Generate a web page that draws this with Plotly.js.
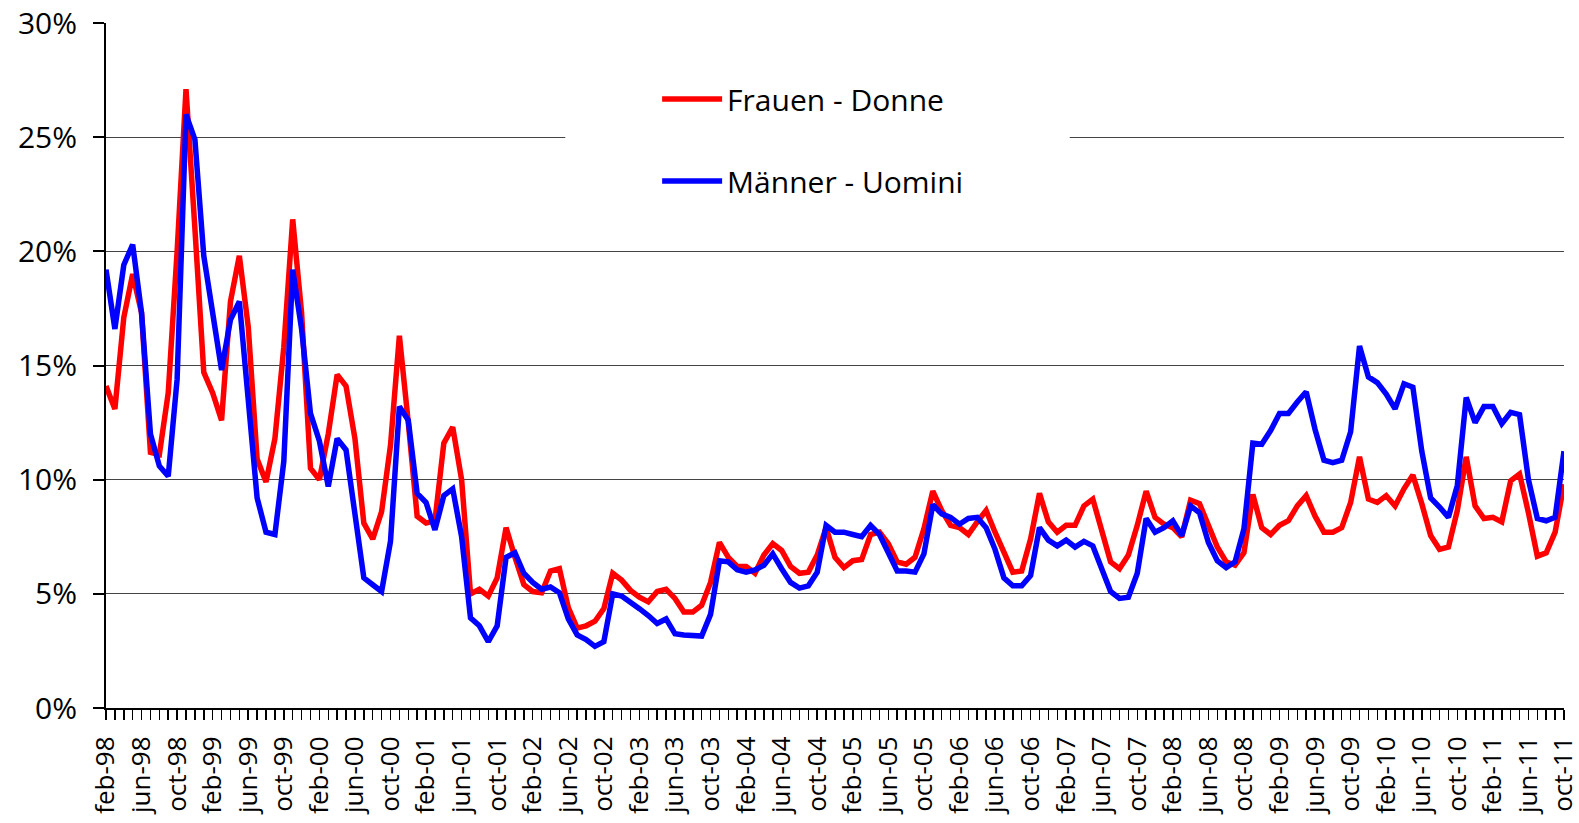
<!DOCTYPE html>
<html>
<head>
<meta charset="utf-8">
<script src="https://cdn.plot.ly/plotly-3.0.1.min.js"></script>
<style>html,body{margin:0;padding:0;background:#fff;}#chart{width:1579px;height:823px;}</style>
</head>
<body>
<div id="chart"></div>
<script>
// Month abbreviations used in the category labels
const monthNames = ['jan','feb','mar','apr','may','jun','jul','aug','sep','oct','nov','dec'];
const startYear = 1998, startMonth = 1;   // feb-98
const nMonths = 165;                      // feb-98 ... oct-11

// Categories (feb-98 .. oct-11)
const categories = [];
for (let k = 0; k < nMonths; k++) {
  const m = (startMonth + k) % 12;
  const y = startYear + Math.floor((startMonth + k) / 12);
  categories.push(monthNames[m] + '-' + String(y % 100).padStart(2, '0'));
}
// Tick labels: every fourth month is labelled
const tickLabels = categories.map((c, k) => (k % 4 === 0 ? c : ''));

const seriesNames = ['Frauen - Donne', 'Männer - Uomini'];

// Frauen - Donne (%)
const frauen = [
  14.1,13.1,17.1,19.0,17.3,11.2,11.1,13.8,20.0,27.1,21.0,14.7,13.8,12.6,17.8,19.8,
  16.7,10.9,9.9,11.8,15.8,21.4,17.3,10.5,10.0,12.0,14.6,14.1,11.8,8.1,7.4,8.6,
  11.5,16.3,12.5,8.4,8.1,8.2,11.6,12.3,10.0,5.0,5.2,4.9,5.7,7.9,6.6,5.4,
  5.1,5.05,6.0,6.1,4.4,3.5,3.6,3.8,4.35,5.9,5.6,5.15,4.85,4.65,5.1,5.2,
  4.8,4.2,4.2,4.5,5.5,7.25,6.6,6.2,6.2,5.9,6.7,7.2,6.9,6.2,5.9,5.95,
  6.7,7.9,6.6,6.15,6.45,6.5,7.6,7.7,7.2,6.4,6.3,6.6,7.85,9.5,8.65,8.0,
  7.9,7.6,8.15,8.65,7.7,6.75,5.95,6.0,7.4,9.4,8.15,7.7,8.0,8.0,8.85,9.15,
  7.7,6.4,6.1,6.7,8.0,9.5,8.35,8.05,7.9,7.5,9.1,8.95,8.0,7.05,6.4,6.25,
  6.8,9.35,7.9,7.6,8.0,8.2,8.85,9.3,8.4,7.7,7.7,7.9,9.0,11.0,9.15,9.0,
  9.3,8.85,9.6,10.2,8.95,7.55,6.95,7.05,8.65,11.0,8.85,8.3,8.35,8.15,9.95,10.25,
  8.55,6.65,6.8,7.7,9.8
];

// Männer - Uomini (%)
const maenner = [
  19.2,16.6,19.4,20.3,17.3,12.0,10.6,10.15,14.4,26.0,24.9,19.8,17.3,14.8,17.0,17.8,
  13.5,9.2,7.7,7.6,10.8,19.2,16.6,12.9,11.7,9.7,11.8,11.3,8.5,5.7,5.4,5.1,
  7.3,13.2,12.6,9.4,9.0,7.8,9.3,9.6,7.5,3.95,3.6,2.9,3.6,6.6,6.8,5.9,
  5.5,5.2,5.3,5.05,3.9,3.2,3.0,2.7,2.9,5.0,4.9,4.65,4.35,4.05,3.7,3.9,
  3.25,3.2,3.2,3.15,4.1,6.45,6.4,6.05,5.95,6.05,6.25,6.75,6.1,5.5,5.25,5.35,
  5.95,8.0,7.7,7.7,7.6,7.5,8.0,7.6,6.8,6.0,6.0,5.95,6.75,8.9,8.5,8.35,
  8.05,8.3,8.35,7.9,6.95,5.7,5.35,5.35,5.8,7.9,7.35,7.1,7.35,7.05,7.3,7.1,
  6.1,5.1,4.8,4.85,5.9,8.3,7.7,7.9,8.2,7.55,8.85,8.55,7.25,6.45,6.15,6.4,
  7.85,11.6,11.55,12.15,12.9,12.9,13.4,13.85,12.2,10.85,10.75,10.85,12.1,15.85,14.5,14.25,
  13.75,13.1,14.2,14.05,11.25,9.2,8.8,8.35,9.75,13.6,12.5,13.2,13.2,12.45,12.95,12.85,
  10.0,8.3,8.2,8.35,11.25
];

const yTicks = [0, 5, 10, 15, 20, 25, 30];

const FONT = '"Open Sans", "Noto Sans", sans-serif';

const traces = [
  { x: categories, y: frauen, name: seriesNames[0], type: 'scatter', mode: 'lines',
    line: { color: '#FF0000', width: 5.5 }, legendgroup: 'a' },
  { x: categories, y: maenner, name: seriesNames[1], type: 'scatter', mode: 'lines',
    line: { color: '#0000FF', width: 5.5 }, legendgroup: 'b' }
];

const layout = {
  width: 1579, height: 823, autosize: false,
  margin: { l: 106, r: 15, t: 23, b: 115, pad: 0 },
  paper_bgcolor: '#ffffff', plot_bgcolor: '#ffffff',
  font: { family: FONT, color: '#000', size: 28 },
  showlegend: true,
  legend: {
    x: 0.378, y: 0.927, xanchor: 'left', yanchor: 'top',
    bgcolor: '#ffffff', borderwidth: 0, itemwidth: 60,
    font: { family: FONT, size: 30, color: '#000' },
    traceorder: 'grouped', tracegroupgap: 40
  },
  xaxis: {
    type: 'category', range: [0, nMonths - 1], fixedrange: true,
    tickmode: 'array', tickvals: categories, ticktext: tickLabels,
    ticks: 'outside', ticklen: 10, tickwidth: 1.5, tickcolor: '#000',
    tickangle: -90, tickfont: { family: FONT, size: 26, color: '#000' },
    ticklabelstandoff: 6,
    showline: true, linecolor: '#000', linewidth: 2,
    showgrid: false, zeroline: false
  },
  yaxis: {
    range: [0, 30], tickmode: 'array', tickvals: yTicks,
    ticktext: yTicks.map(v => v + '%'),
    ticks: 'outside', ticklen: 11, tickwidth: 2, tickcolor: '#000',
    tickfont: { family: FONT, size: 30, color: '#000' },
    ticklabelstandoff: 10,
    showline: true, linecolor: '#000', linewidth: 2,
    showgrid: true, gridcolor: '#444', gridwidth: 1, zeroline: false
  },
  shapes: [
    { type: 'rect', xref: 'paper', yref: 'y', x0: 0.315, x1: 0.661, y0: 24.5, y1: 25.5,
      fillcolor: '#ffffff', line: { width: 0 }, layer: 'above' }
  ]
};

Plotly.newPlot('chart', traces, layout, { staticPlot: true, displayModeBar: false });
</script>
</body>
</html>
